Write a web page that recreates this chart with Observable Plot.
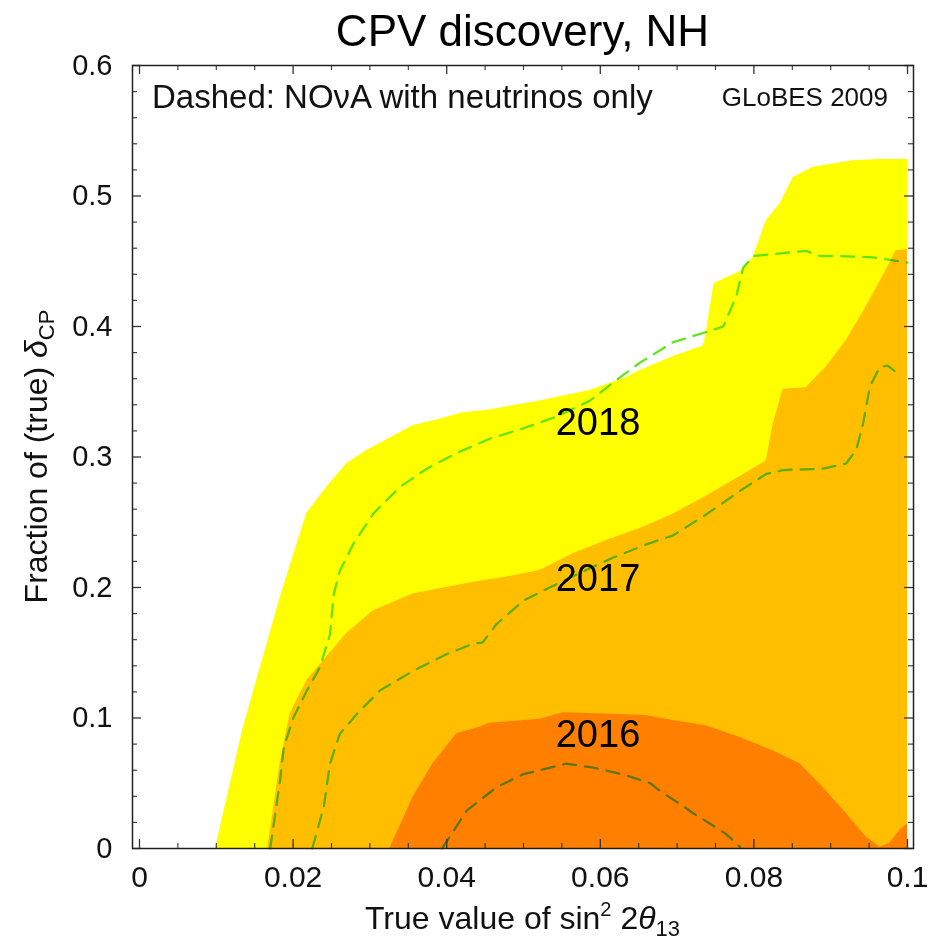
<!DOCTYPE html>
<html><head><meta charset="utf-8">
<script src="https://cdn.jsdelivr.net/npm/d3@7"></script>
<script src="https://cdn.jsdelivr.net/npm/@observablehq/plot@0.6"></script>
<style>
body{margin:0;background:#fff;}
#chart svg{display:block;}
</style></head><body><div id="chart"></div>
<script>
// ---- data: contour boundaries (x = true sin^2 2theta13, y = fraction of delta_CP)
const x2018 = [0.0099,0.0134,0.0183,0.0218,0.0244,0.0270,0.0296,0.0356,0.0391,0.0421,0.0456,0.0521,0.0586,0.0634,0.0651,0.0695,0.0734,0.0737,0.0748,0.0782,0.0799,0.0816,0.0834,0.0851,0.0877,0.0929,0.0964,0.1];
const y2018 = [0,0.090,0.192,0.257,0.277,0.295,0.305,0.324,0.329,0.334,0.336,0.343,0.351,0.361,0.366,0.377,0.385,0.392,0.433,0.442,0.453,0.481,0.494,0.514,0.522,0.527,0.528,0.528];

const x2017 = [0.0167,0.0183,0.0196,0.0218,0.0244,0.0270,0.0304,0.0356,0.0391,0.0435,0.0478,0.0521,0.0565,0.0608,0.0651,0.0694,0.0738,0.0782,0.0816,0.0825,0.0838,0.0868,0.0894,0.0920,0.0946,0.0972,0.0985,0.1];
const y2017 = [0,0.065,0.103,0.129,0.147,0.165,0.182,0.195,0.199,0.204,0.208,0.213,0.226,0.236,0.245,0.256,0.270,0.285,0.297,0.325,0.352,0.353,0.369,0.389,0.415,0.443,0.458,0.459];

const x2016 = [0.0326,0.0356,0.0382,0.0413,0.0443,0.0456,0.0521,0.0552,0.0608,0.0660,0.0695,0.0738,0.0782,0.0825,0.0860,0.0890,0.0920,0.0946,0.0964,0.0977,0.0990,0.1];
const y2016 = [0,0.039,0.065,0.088,0.093,0.096,0.099,0.104,0.103,0.102,0.098,0.094,0.085,0.075,0.065,0.047,0.027,0.009,0.001,0.004,0.014,0.019];

// NOvA neutrinos only (dashed)
const xNova2018 = [0.0170,0.0173,0.0183,0.0188,0.0201,0.0218,0.0235,0.0248,0.0253,0.0261,0.0279,0.0305,0.0339,0.0374,0.0413,0.0456,0.0500,0.0543,0.0586,0.0621,0.0651,0.0695,0.0734,0.0760,0.0777,0.0786,0.0799,0.0834,0.0868,0.0886,0.0912,0.0955,0.1];
const yNova2018 = [0,0.011,0.052,0.078,0.101,0.121,0.139,0.164,0.195,0.213,0.234,0.257,0.277,0.291,0.303,0.314,0.322,0.331,0.343,0.359,0.372,0.388,0.395,0.400,0.423,0.445,0.454,0.456,0.458,0.454,0.454,0.453,0.449];

const xNova2017 = [0.0225,0.0240,0.0248,0.0261,0.0283,0.0313,0.0356,0.0400,0.0435,0.0447,0.0465,0.0500,0.0534,0.0573,0.0617,0.0660,0.0695,0.0738,0.0782,0.0816,0.0838,0.0890,0.0920,0.0933,0.0942,0.0951,0.0964,0.0974,0.0983];
const yNova2017 = [0,0.032,0.065,0.088,0.103,0.121,0.136,0.149,0.157,0.158,0.172,0.190,0.200,0.211,0.223,0.233,0.240,0.256,0.274,0.287,0.290,0.291,0.295,0.305,0.325,0.354,0.369,0.370,0.366];

const xNova2016 = [0.0394,0.0426,0.0465,0.0500,0.0556,0.0591,0.0634,0.0665,0.0678,0.0704,0.0721,0.0751,0.0764,0.0782];
const yNova2016 = [0,0.029,0.047,0.057,0.065,0.062,0.056,0.050,0.044,0.034,0.027,0.016,0.011,0.001];

// region labels
const labelYears = ["2018","2017","2016"];
const labelX = [0.0597,0.0597,0.0597];
const labelY = [0.326,0.207,0.087];

// ticks
const xTickValues = [0,0.02,0.04,0.06,0.08,0.1];
const xTickLabels = ["0","0.02","0.04","0.06","0.08","0.1"];
const xMinor = d3.range(0,21).map(i=>i*0.005).filter(v=>Math.abs(v*50-Math.round(v*50))>1e-6);
const yTickValues = [0,0.1,0.2,0.3,0.4,0.5,0.6];
const yTickLabels = ["0","0.1","0.2","0.3","0.4","0.5","0.6"];
const yMinor = d3.range(0,31).map(i=>i*0.02).filter(v=>Math.abs(v*10-Math.round(v*10))>1e-6);

const pts = (xs, ys) => xs.map((x,i)=>({x, y: ys[i]}));

const W=941, H=944, mL=132, mR=28, mT=65, mB=96;
const pw = W-mL-mR, ph = H-mT-mB;
const FONT = '"Liberation Sans", Arial, Helvetica, sans-serif';
const dashColor = "#62e41e";
const tickColor = "#333";
const dashStyle = {stroke:dashColor, strokeWidth:2.3, strokeDasharray:"13,9"};

const plot = Plot.plot({
  width: W, height: H,
  marginLeft: mL, marginRight: mR, marginTop: mT, marginBottom: mB,
  x: {domain: [-0.00091, 0.10078], axis: null},
  y: {domain: [0, 0.6], axis: null},
  style: {fontFamily: FONT, background: "white", color: "#111"},
  marks: [
    Plot.areaY(pts(x2018,y2018), {x:"x", y1:0, y2:"y", fill:"#ffff00"}),
    Plot.areaY(pts(x2017,y2017), {x:"x", y1:0, y2:"y", fill:"#ffbf00"}),
    Plot.areaY(pts(x2016,y2016), {x:"x", y1:0, y2:"y", fill:"#ff8000"}),
    Plot.line(pts(xNova2018,yNova2018), {x:"x", y:"y", ...dashStyle}),
    Plot.line(pts(xNova2017,yNova2017), {x:"x", y:"y", ...dashStyle}),
    Plot.line(pts(xNova2016,yNova2016), {x:"x", y:"y", ...dashStyle}),
    Plot.text(labelYears, {x:(d,i)=>labelX[i], y:(d,i)=>labelY[i], text:d=>d, fontSize:38, fill:"#000"}),
    // inward ticks on all four sides
    Plot.ruleX(xTickValues, {x:d=>d, insetTop: ph-9, stroke:tickColor, strokeWidth:1.3}),
    Plot.ruleX(xTickValues, {x:d=>d, insetBottom: ph-9, stroke:tickColor, strokeWidth:1.3}),
    Plot.ruleX(xMinor, {x:d=>d, insetTop: ph-5, stroke:tickColor, strokeWidth:1.1}),
    Plot.ruleX(xMinor, {x:d=>d, insetBottom: ph-5, stroke:tickColor, strokeWidth:1.1}),
    Plot.ruleY(yTickValues, {y:d=>d, insetRight: pw-9, stroke:tickColor, strokeWidth:1.3}),
    Plot.ruleY(yTickValues, {y:d=>d, insetLeft: pw-9, stroke:tickColor, strokeWidth:1.3}),
    Plot.ruleY(yMinor, {y:d=>d, insetRight: pw-5, stroke:tickColor, strokeWidth:1.1}),
    Plot.ruleY(yMinor, {y:d=>d, insetLeft: pw-5, stroke:tickColor, strokeWidth:1.1}),
    Plot.frame({stroke:"#222", strokeWidth:1.5}),
    Plot.axisX({anchor:"bottom", ticks:xTickValues, tickSize:0, tickPadding:17, fontSize:30,
      tickFormat:d=>xTickLabels[xTickValues.indexOf(d)], label:null, fill:"#111"}),
    Plot.axisY({anchor:"left", ticks:yTickValues, tickSize:0, tickPadding:20, fontSize:29,
      tickFormat:d=>yTickLabels[yTickValues.indexOf(d)], label:null, fill:"#111"})
  ]
});
document.getElementById("chart").append(plot);

const svg = d3.select(plot);
svg.selectAll('g[aria-label="line"]').style("mix-blend-mode","multiply");

// title
svg.append("text").attr("x", mL+pw/2).attr("y",46).attr("text-anchor","middle")
  .attr("font-size",44).attr("font-family",FONT).attr("fill","#000").text("CPV discovery, NH");
// annotations inside the frame
svg.append("text").attr("x",152).attr("y",108).attr("text-anchor","start").attr("font-size",33)
  .attr("font-family",FONT).attr("fill","#111").text("Dashed: NOνA with neutrinos only");
svg.append("text").attr("x",888).attr("y",106).attr("text-anchor","end").attr("font-size",26)
  .attr("font-family",FONT).attr("fill","#111").text("GLoBES 2009");
// x axis title
const tx = svg.append("text").attr("x", mL+pw/2).attr("y",929).attr("text-anchor","middle")
  .attr("font-size",32).attr("font-family",FONT).attr("fill","#111");
tx.append("tspan").text("True value of sin");
tx.append("tspan").attr("dy",-13).attr("font-size",20).text("2");
tx.append("tspan").attr("dy",13).text(" 2");
tx.append("tspan").attr("font-style","italic").text("θ");
tx.append("tspan").attr("dy",7).attr("font-size",22).text("13");
// y axis title
const ty = svg.append("text").attr("transform",`translate(47,${mT+ph/2}) rotate(-90)`)
  .attr("text-anchor","middle").attr("font-size",32).attr("font-family",FONT).attr("fill","#111");
ty.append("tspan").text("Fraction of (true) ");
ty.append("tspan").attr("font-style","italic").text("δ");
ty.append("tspan").attr("dy",7).attr("font-size",22).text("CP");
</script></body></html>
